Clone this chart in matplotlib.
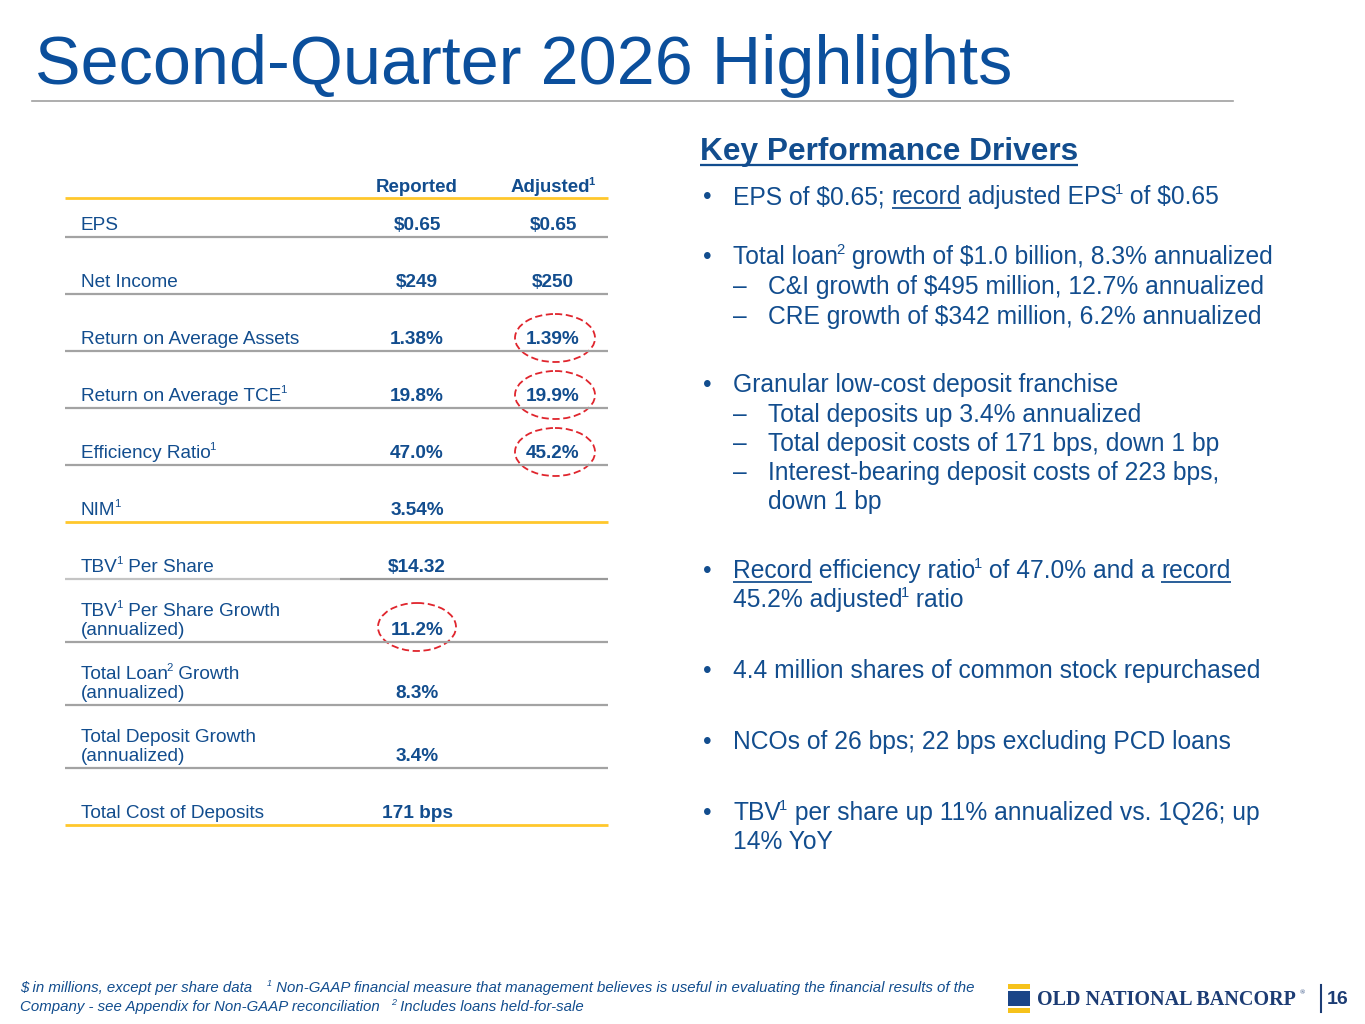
import re
import matplotlib
matplotlib.use('Agg')
import matplotlib.pyplot as plt
from matplotlib import font_manager
from matplotlib.patches import Ellipse, Rectangle

# ---- data ----
metric_labels = ["EPS", "Net Income", "Return on Average Assets",
                 "Return on Average TCE^1", "Efficiency Ratio^1", "NIM^1",
                 "TBV^1 Per Share", "TBV^1 Per Share Growth\n(annualized)",
                 "Total Loan^2 Growth\n(annualized)",
                 "Total Deposit Growth\n(annualized)", "Total Cost of Deposits"]
reported = ["$0.65", "$249", "1.38%", "19.8%", "47.0%", "3.54%", "$14.32",
            "11.2%", "8.3%", "3.4%", "171 bps"]
adjusted = ["$0.65", "$250", "1.39%", "19.9%", "45.2%", "", "", "", "", "", ""]
circled_adj = [2, 3, 4]
circled_rep = [7]
gold_rows = [5, 10]

bullets = [
    (0, "EPS of $0.65; _record_ adjusted EPS^1 of $0.65"),
    (0, "Total loan^2 growth of $1.0 billion, 8.3% annualized"),
    (1, "C&I growth of $495 million, 12.7% annualized"),
    (1, "CRE growth of $342 million, 6.2% annualized"),
    (0, "Granular low-cost deposit franchise"),
    (1, "Total deposits up 3.4% annualized"),
    (1, "Total deposit costs of 171 bps, down 1 bp"),
    (1, "Interest-bearing deposit costs of 223 bps,\ndown 1 bp"),
    (0, "_Record_ efficiency ratio^1 of 47.0% and a _record_\n45.2% adjusted^1 ratio"),
    (0, "4.4 million shares of common stock repurchased"),
    (0, "NCOs of 26 bps; 22 bps excluding PCD loans"),
    (0, "TBV^1 per share up 11% annualized vs. 1Q26; up\n14% YoY"),
]

title = "Second-Quarter 2026 Highlights"
footnotes = ["$ in millions, except per share data    ^1 Non-GAAP financial measure that management believes is useful in evaluating the financial results of the",
             "Company - see Appendix for Non-GAAP reconciliation   ^2 Includes loans held-for-sale"]

# ---- layout ----
row_base = [230, 287, 344, 401, 458, 515, 572, 635, 698, 761, 818]
bullet_y = [204, 264, 294, 324, 392, 422, 451, 480, 578, 678, 749, 820]

TITLE_BLUE = '#0B4F9C'
BLUE = '#124D8E'
GOLD = '#FFC72C'
GRAY = '#A3A3A3'
RED = '#E0252D'
PX = 100 / 72

names = {f.name for f in font_manager.fontManager.ttflist}
SANS = 'Liberation Sans' if 'Liberation Sans' in names else 'DejaVu Sans'
SERIF = 'Liberation Serif' if 'Liberation Serif' in names else 'DejaVu Serif'
NARROW = 'Liberation Sans Narrow' if 'Liberation Sans Narrow' in names else SANS

fig = plt.figure(figsize=(13.65, 10.24), dpi=100)
ax = fig.add_axes([0, 0, 1, 1])
ax.set_xlim(0, 1365)
ax.set_ylim(1024, 0)
ax.axis('off')
renderer = fig.canvas.get_renderer()


def measure(s, size, weight='normal', family=SANS, style='normal'):
    kw = dict(fontsize=size, fontweight=weight, family=family, style=style, parse_math=False)
    t = ax.text(0, 0, '|' + s + '|', **kw)
    w1 = t.get_window_extent(renderer).width
    t.remove()
    t = ax.text(0, 0, '||', **kw)
    w2 = t.get_window_extent(renderer).width
    t.remove()
    return w1 - w2


def parse(s):
    out = []
    for tok in re.split(r'(\^\d|_[^_]+_)', s):
        if not tok:
            continue
        if tok.startswith('^'):
            out.append((tok[1:], 'sup'))
        elif tok.startswith('_') and tok.endswith('_') and len(tok) > 2:
            out.append((tok[1:-1], 'u'))
        else:
            out.append((tok, ''))
    return out


def rich(x, y, s, size, color=BLUE, weight='normal', ha='left', family=SANS, style='normal'):
    parts = parse(s)
    sizes = [size * 0.6 if k == 'sup' else size for _, k in parts]
    widths = [measure(t, sz, weight, family, style) for (t, _), sz in zip(parts, sizes)]
    total = sum(widths)
    if ha == 'center':
        x -= total / 2
    elif ha == 'right':
        x -= total
    for (t, k), w, sz in zip(parts, widths, sizes):
        dy = 0
        if k == 'sup':
            dy = -size * 0.4 * PX
            x -= 1.5
        ax.text(x, y + dy, t, fontsize=sz, fontweight=weight, family=family, style=style,
                color=color, va='baseline', ha='left', parse_math=False)
        if k == 'u':
            ax.plot([x, x + w], [y + size * 0.16 * PX] * 2, color=color,
                    lw=size / 14, solid_capstyle='butt')
        x += w


# title
ax.text(35, 84, title, fontsize=49.2, family=SANS, color=TITLE_BLUE, va='baseline', parse_math=False)
ax.plot([32, 1233], [101, 101], color='#A0A0A0', lw=1.2)

# table
TS = 13.7
col_rep, col_adj = 417, 553
rich(col_rep, 192, "Reported", TS * 0.98, weight='bold', ha='center')
rich(col_adj, 192, "Adjusted^1", TS * 0.98, weight='bold', ha='center')
ax.plot([65, 608], [198, 198], color=GOLD, lw=2, solid_capstyle='butt')

for i, lab in enumerate(metric_labels):
    base = row_base[i]
    lines = lab.split('\n')
    for j, ln in enumerate(lines):
        rich(81, base - 19 * (len(lines) - 1 - j), ln, TS)
    rich(col_rep, base, reported[i], TS, weight='bold', ha='center')
    if adjusted[i]:
        rich(col_adj, base, adjusted[i], TS, weight='bold', ha='center')
    ry = base + 7
    if i in gold_rows:
        ax.plot([65, 608], [ry, ry], color=GOLD, lw=2, solid_capstyle='butt')
    elif i == 6:
        ax.plot([65, 340], [ry, ry], color='#C4C4C4', lw=1.6, solid_capstyle='butt')
        ax.plot([340, 608], [ry, ry], color='#9A9A9A', lw=1.6, solid_capstyle='butt')
    else:
        ax.plot([65, 608], [ry, ry], color=GRAY, lw=1.6, solid_capstyle='butt')
    if i in circled_adj:
        ax.add_patch(Ellipse((col_adj + 2, base - 6), 80, 48, fill=False, ec=RED,
                             lw=1.3, ls=(0, (4, 2))))
    if i in circled_rep:
        ax.add_patch(Ellipse((col_rep, base - 8), 78, 48, fill=False, ec=RED,
                             lw=1.3, ls=(0, (4, 2))))

# key performance drivers
rich(700, 160, "_Key Performance Drivers_", 22.8, weight='bold')
BS = 17.7
for (lvl, txt), y in zip(bullets, bullet_y):
    if lvl == 0:
        ax.text(703, y, "\u2022", fontsize=BS, family=SANS, color=BLUE, va='baseline', parse_math=False)
        tx = 733
    else:
        ax.text(733, y, "\u2013", fontsize=BS, family=SANS, color=BLUE, va='baseline', parse_math=False)
        tx = 768
    for j, ln in enumerate(txt.split('\n')):
        rich(tx, y + 29 * j, ln, BS)

# footnotes
fs = 12.5 if NARROW != SANS else 10.8
rich(20, 992, footnotes[0], fs, style='italic', family=NARROW)
rich(20, 1011, footnotes[1], fs, style='italic', family=NARROW)

# logo
LOGO_BLUE = '#1B4587'
ax.add_patch(Rectangle((1008, 984), 22, 4.5, color='#F6C21B', lw=0))
ax.add_patch(Rectangle((1008, 990.5), 22, 15.5, color=LOGO_BLUE, lw=0))
ax.add_patch(Rectangle((1008, 1008), 22, 4.5, color='#F6C21B', lw=0))
ax.text(1037, 1005, "OLD NATIONAL BANCORP", fontsize=14.5, fontweight='bold', family=SERIF,
        color='#1C3C74', va='baseline', parse_math=False)
ax.text(1300, 994, "\u00ae", fontsize=5, family=SERIF, color='#1C3C74', va='baseline')
ax.plot([1321, 1321], [985, 1012], color='#1C3C74', lw=1.5)
ax.text(1327, 1004, "16", fontsize=14, fontweight='bold', family=SANS, color='#1C3C74',
        va='baseline', parse_math=False)

fig.savefig('out.png', dpi=100, facecolor='white')
